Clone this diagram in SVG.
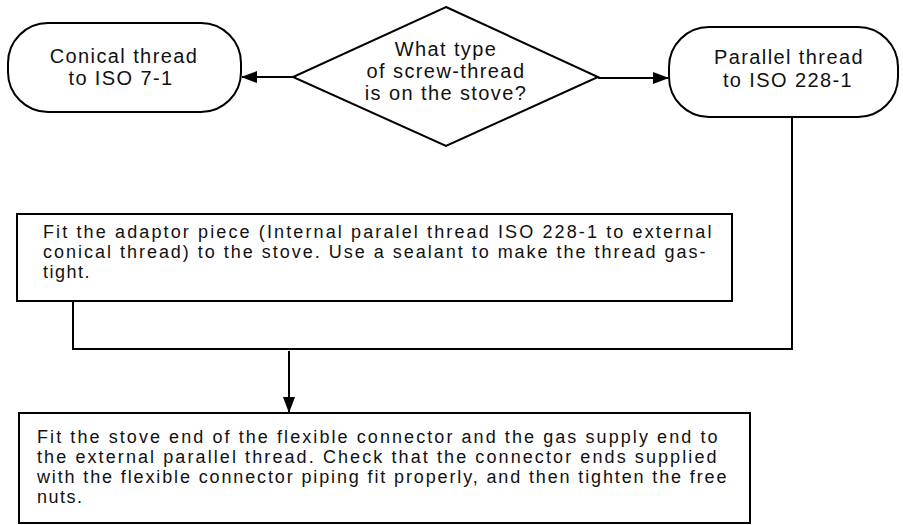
<svg xmlns="http://www.w3.org/2000/svg" width="903" height="525" viewBox="0 0 903 525">
  <style>
    .shape { fill: #ffffff; stroke: #000000; stroke-width: 2; }
    .conn { fill: none; stroke: #000000; stroke-width: 2; }
    .t { font-family: "Liberation Sans", Arial, sans-serif; fill: #111111; }
    .big { font-size: 20px; letter-spacing: 1.4px; }
    .small { font-size: 18px; letter-spacing: 1.5px; }
  </style>
  <defs>
    <marker id="arrow" markerUnits="userSpaceOnUse" markerWidth="16" markerHeight="12" refX="15" refY="6" orient="auto">
      <path d="M0,0 L16,6 L0,12 Z" fill="#000000"/>
    </marker>
  </defs>
  <rect width="903" height="525" fill="#ffffff"/>

  <g id="connectors">
    <line class="conn" x1="293" y1="77" x2="242" y2="77" marker-end="url(#arrow)"/>
    <line class="conn" x1="598" y1="78" x2="668" y2="78" marker-end="url(#arrow)"/>
    <polyline class="conn" points="73,301 73,349 792,349 792,117"/>
    <line class="conn" x1="289" y1="351" x2="289" y2="412" marker-end="url(#arrow)"/>
  </g>

  <g id="node-conical">
    <rect class="shape" x="8" y="23" width="233" height="89" rx="40" ry="40"/>
    <text class="t big" x="124" y="63" text-anchor="middle">Conical thread</text>
    <text class="t big" x="121" y="85" text-anchor="middle">to ISO 7-1</text>
  </g>

  <g id="node-question">
    <polygon class="shape" points="446,7 598,77 446,146 293,77"/>
    <text class="t big" x="446" y="56" text-anchor="middle">What type</text>
    <text class="t big" x="446" y="78" text-anchor="middle">of screw-thread</text>
    <text class="t big" x="446" y="100" text-anchor="middle">is on the stove?</text>
  </g>

  <g id="node-parallel">
    <rect class="shape" x="669" y="27" width="229" height="90" rx="40" ry="40"/>
    <text class="t big" x="789" y="64" text-anchor="middle">Parallel thread</text>
    <text class="t big" x="788" y="87" text-anchor="middle">to ISO 228-1</text>
  </g>

  <g id="node-adaptor">
    <rect class="shape" x="17" y="214" width="715" height="87"/>
    <text class="t small" x="43" y="238" textLength="670" lengthAdjust="spacing">Fit the adaptor piece (Internal paralel thread ISO 228-1 to external</text>
    <text class="t small" x="43" y="258" textLength="664" lengthAdjust="spacing">conical thread) to the stove. Use a sealant to make the thread gas-</text>
    <text class="t small" x="43" y="278">tight.</text>
  </g>

  <g id="node-fit">
    <rect class="shape" x="19" y="413" width="731" height="110"/>
    <text class="t small" x="37" y="443" textLength="682" lengthAdjust="spacing">Fit the stove end of the flexible connector and the gas supply end to</text>
    <text class="t small" x="37" y="463" textLength="681" lengthAdjust="spacing">the external parallel thread. Check that the connector ends supplied</text>
    <text class="t small" x="37" y="483" textLength="691" lengthAdjust="spacing">with the flexible connector piping fit properly, and then tighten the free</text>
    <text class="t small" x="37" y="503">nuts.</text>
  </g>
</svg>
